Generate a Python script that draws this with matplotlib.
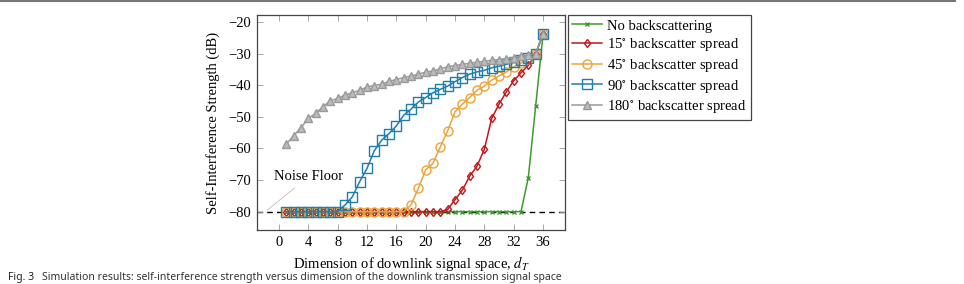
import numpy as np
import matplotlib
matplotlib.use('Agg')
import matplotlib.pyplot as plt
from matplotlib.lines import Line2D

plt.rcParams['font.family'] = ['Liberation Serif', 'DejaVu Serif']
plt.rcParams['mathtext.fontset'] = 'stix'

# dimension of downlink signal space
d_T = list(range(1, 37))

# self-interference strength (dB)
no_bs = [-80] * 33 + [-69.2, -46.6, -24.0]
spread15 = [-80] * 22 + [-79.3, -76.2, -73.2, -68.8, -65.6, -60.3, -50.5, -46.0,
                         -42.1, -38.6, -36.1, -33.7, -30.2, -23.7]
spread45 = [-80] * 17 + [-77.9, -72.6, -66.8, -64.7, -59.5, -54.4, -48.4, -46.0,
                         -43.9, -41.6, -40.3, -38.4, -37.1, -35.8, -34.2, -33.0,
                         -31.6, -30.2, -23.7]
spread90 = [-80] * 8 + [-77.9, -75.3, -70.5, -66.3, -60.7, -57.4, -55.3, -52.9,
                        -49.5, -47.6, -45.3, -43.9, -42.4, -41.3, -40.3, -38.9,
                        -37.6, -36.5, -35.8, -35.3, -34.5, -34.0, -33.4, -32.7,
                        -32.1, -31.3, -30.2, -23.7]
spread180 = [-58.6, -56.0, -53.4, -50.5, -48.9, -46.8, -44.9, -44.2, -43.1, -42.4,
             -41.6, -40.6, -40.1, -39.7, -38.8, -38.2, -37.6, -37.1, -36.5, -35.9,
             -35.5, -34.8, -34.2, -33.8, -33.4, -33.1, -32.7, -32.5, -32.1, -31.9,
             -31.6, -31.3, -30.8, -30.5, -30.0, -23.7]

labels = ['No backscattering',
          r'15$^{\circ}$ backscatter spread',
          r'45$^{\circ}$ backscatter spread',
          r'90$^{\circ}$ backscatter spread',
          r'180$^{\circ}$ backscatter spread']
series = [no_bs, spread15, spread45, spread90, spread180]
colors = ['#3d9a2e', '#c4161c', '#eba43c', '#1d7fae', '#999999']
markers = ['x', 'd', 'o', 's', '^']
msizes = [3.5, 4.5, 6.5, 6.5, 5.5]
x_ticks = list(range(0, 37, 4))
y_ticks = list(range(-80, -19, 10))
noise_floor = -80

fig = plt.figure(figsize=(9.64, 2.84), dpi=100)
ax = fig.add_axes([257 / 964, 54 / 284, 308 / 964, 215 / 284])

ax.axhline(noise_floor, color='black', ls=(0, (4, 3)), lw=1.0, zorder=1)

for y, c, m, ms, lab in zip(series, colors, markers, msizes, labels):
    face = 'none'
    if m == '^':
        face = '#bbbbbb'
    ax.plot(d_T, y, color=c, marker=m, ms=ms, lw=1.1, mfc=face, mec=c,
            mew=1.0, label=lab, zorder=2)

ax.annotate('Noise Floor', xy=(-1.6, -79.5), xytext=(4.0, -69),
            ha='center', va='center', fontsize=10.5,
            arrowprops=dict(arrowstyle='-', color='#b0b0b0', lw=0.5,
                            shrinkA=2, shrinkB=0))

ax.set_xlim(-3, 39)
ax.set_ylim(-85.8, -17.8)
ax.set_xticks(x_ticks)
ax.set_yticks(y_ticks)
ax.tick_params(direction='in', top=True, right=True, length=4, width=0.6,
               color='#999999', labelsize=10.5, pad=4)
for s in ax.spines.values():
    s.set_color('#444444')
    s.set_linewidth(0.9)
ax.set_xlabel(r'Dimension of downlink signal space, $d_T$', fontsize=10.5,
              labelpad=4)
ax.set_ylabel('Self-Interference Strength (dB)', fontsize=10.5, labelpad=6)

leg = ax.legend(loc='upper left', bbox_to_anchor=(568 / 964, 269 / 284),
                bbox_transform=fig.transFigure, fontsize=10.5, frameon=True,
                fancybox=False, framealpha=1, edgecolor='#444444',
                handlelength=2.0, handletextpad=0.4, labelspacing=0.25,
                borderpad=0.3, borderaxespad=0)
leg.get_frame().set_linewidth(0.9)

# page border at the top and the figure caption at the bottom
fig.add_artist(Line2D([0, 955 / 964], [0.995, 0.995], color='#777777',
                      lw=1.5, transform=fig.transFigure))
fig.text(8 / 964, 1 / 284, 'Fig. 3', fontsize=7.5, fontweight='bold',
         family=['Noto Sans', 'DejaVu Sans'], color='#222222', va='bottom')
fig.text(42 / 964, 1 / 284,
         'Simulation results: self-interference strength versus dimension of the downlink transmission signal space',
         fontsize=7.5, family=['Noto Sans', 'DejaVu Sans'], color='#333333',
         va='bottom')

fig.savefig('out.png', dpi=100)
